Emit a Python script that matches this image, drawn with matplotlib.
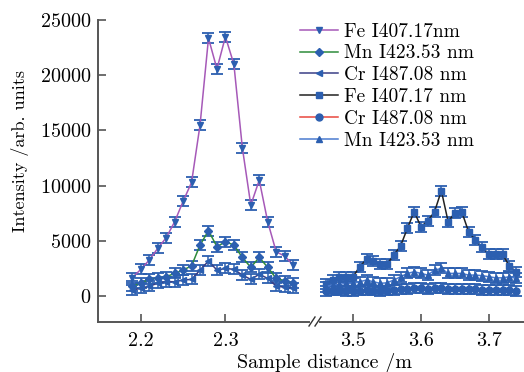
import matplotlib
matplotlib.use("Agg")
import matplotlib.pyplot as plt
from matplotlib.lines import Line2D
import numpy as np

plt.rcParams['font.family'] = ['cmr10', 'DejaVu Serif']
plt.rcParams['axes.formatter.use_mathtext'] = True
plt.rcParams['axes.unicode_minus'] = False

# ---------------- data ----------------
x_left = [2.19, 2.20, 2.21, 2.22, 2.23, 2.24, 2.25, 2.26, 2.27, 2.28,
          2.29, 2.30, 2.31, 2.32, 2.33, 2.34, 2.35, 2.36, 2.37, 2.38]
fe_left = [1660, 2420, 3260, 4320, 5280, 6730, 8580, 10300, 15490, 23350,
           20570, 23490, 21000, 13440, 8240, 10500, 6730, 4010, 3620, 2810]
mn_left = [906, 1150, 1540, 1600, 1750, 2050, 2350, 2740, 4620, 5920,
           4470, 4920, 4620, 3500, 2600, 3500, 2600, 1600, 1390, 1150]
cr_left = [540, 700, 906, 1150, 1300, 1300, 1450, 1510, 2350, 3170,
           2350, 2500, 2420, 1900, 1510, 1970, 1600, 906, 790, 700]

x_right = [3.46, 3.47, 3.48, 3.49, 3.50, 3.51, 3.52, 3.53, 3.54, 3.55,
           3.56, 3.57, 3.58, 3.59, 3.60, 3.61, 3.62, 3.63, 3.64, 3.65,
           3.66, 3.67, 3.68, 3.69, 3.70, 3.71, 3.72, 3.73, 3.74]
fe_right = [1090, 1450, 1690, 1690, 1750, 2660, 3350, 3200, 2900, 2870,
            3710, 4530, 6130, 7640, 6280, 6800, 7640, 9540, 6730, 7550,
            7640, 5830, 5070, 4410, 3780, 3780, 3780, 2720, 2200]
mn_right = [850, 1000, 1060, 1150, 1150, 1300, 1450, 1300, 1150, 1200,
            1450, 1750, 2050, 2200, 2050, 1900, 2350, 2500, 2050, 2050,
            2050, 1900, 1900, 1850, 1750, 1650, 1650, 1750, 1600]
cr_right = [450, 500, 500, 480, 480, 500, 520, 500, 480, 500,
            550, 600, 650, 700, 700, 680, 720, 750, 650, 650,
            650, 600, 600, 580, 560, 550, 540, 520, 480]

err = 450

labels = ["Fe I407.17nm", "Mn I423.53 nm", "Cr I487.08 nm",
          "Fe I407.17 nm", "Cr I487.08 nm", "Mn I423.53 nm"]

blue = "#2c5fb0"

W, H = 524, 372
fig = plt.figure(figsize=(W / 100, H / 100), dpi=100)

def fx(px):
    return px / W

def fy(py):
    return 1 - py / H

bot, top = fy(322), fy(20)
axL = fig.add_axes([fx(98), bot, fx(309) - fx(98), top - bot])
axR = fig.add_axes([fx(320), bot, fx(526) - fx(320), top - bot])

ylim = (-2350, 25000)
axL.set_xlim(2.1494, 2.3988)
axR.set_xlim(3.4515, 3.7545)
for ax in (axL, axR):
    ax.set_ylim(*ylim)
    ax.patch.set_alpha(0)
    for s in ('top', 'right'):
        ax.spines[s].set_visible(False)
    for s in ('bottom', 'left'):
        ax.spines[s].set_color('#555555')
        ax.spines[s].set_linewidth(1.4)
    ax.tick_params(direction='in', length=6, width=1.2, color='#555555',
                   labelsize=14.5)
    ax.tick_params(axis='x', pad=7)
    ax.tick_params(axis='y', pad=4.5)

axR.spines['left'].set_visible(False)
axR.tick_params(axis='y', left=False, labelleft=False)
axL.set_xticks([2.2, 2.3])
axL.set_xticklabels(["2.2", "2.3"])
axR.set_xticks([3.5, 3.6, 3.7])
axR.set_xticklabels(["3.5", "3.6", "3.7"])
axL.set_yticks([0, 5000, 10000, 15000, 20000, 25000])

ms = 5.0
cap = 4.5

def series(ax, x, y, color, marker, label, msz=ms):
    ax.errorbar(x, y, yerr=err, fmt='none', ecolor=blue, elinewidth=1.1,
                capsize=cap, capthick=1.3, zorder=2)
    ln, = ax.plot(x, y, color=color, lw=1.1, marker=marker, ms=msz,
                  mfc=blue, mec=blue, zorder=3, label=label)
    return ln

h1 = series(axL, x_left, fe_left, "#a659b8", "v", labels[0])
h2 = series(axL, x_left, mn_left, "#2e8b3a", "D", labels[1], 3.8)
h3 = series(axL, x_left, cr_left, "#3b3f86", "<", labels[2])
h4 = series(axR, x_right, fe_right, "#222222", "s", labels[3], 4.3)
h5 = series(axR, x_right, cr_right, "#e8473d", "o", labels[4])
h6 = series(axR, x_right, mn_right, "#4a7bd0", "^", labels[5])

# axis break marks
for dx in (0, 6):
    fig.add_artist(Line2D([fx(309 + dx), fx(315 + dx)], [fy(326), fy(317)],
                          color='#333333', lw=1.0))

fig.legend([h1, h2, h3, h4, h5, h6], labels, loc='upper left',
           bbox_to_anchor=(fx(286), fy(9)), frameon=False, fontsize=14,
           handlelength=1.95, handletextpad=0.35, labelspacing=0.2,
           borderpad=0.2)

fig.text(fx(20), fy(151), "Intensity /arb. units", rotation=90,
         ha='center', va='center', fontsize=13)
fig.text(fx(325), fy(368), "Sample distance /m", ha='center',
         va='baseline', fontsize=14.5)

fig.savefig("out.png", dpi=100)
